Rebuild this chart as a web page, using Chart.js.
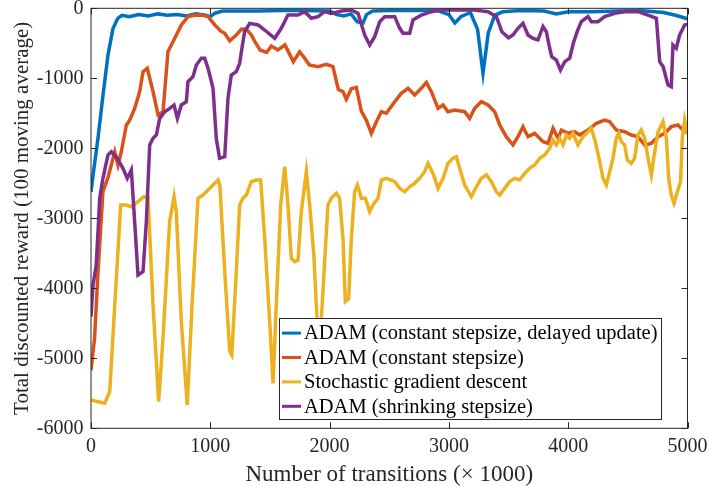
<!DOCTYPE html>
<html lang="en">
<head>
<meta charset="UTF-8">
<title>Total discounted reward</title>
<script src="https://cdn.jsdelivr.net/npm/chart.js"></script>
<style>
  body { margin: 0; background: #fff; }
  #wrap { width: 709px; height: 486px; }
</style>
</head>
<body>
<div id="wrap"><canvas id="rewardCanvas"></canvas></div>
<script>
// [transitions (x1000), reward] pairs, 100-episode moving average
const adamDelayed = [[0,-2620],[20,-2350],[59,-1850],[100,-1250],[142,-670],[184,-290],[226,-140],[260,-100],[320,-120],[400,-90],[480,-110],[560,-80],[640,-100],[720,-90],[800,-110],[880,-80],[960,-100],[1000,-120],[1040,-70],[1100,-40],[1200,-40],[1400,-40],[1600,-30],[1800,-30],[2000,-40],[2060,-90],[2120,-110],[2180,-80],[2230,-190],[2280,-210],[2310,-90],[2360,-40],[2500,-30],[2700,-30],[2900,-30],[3000,-90],[3050,-210],[3100,-120],[3180,-60],[3240,-300],[3286,-930],[3330,-350],[3384,-100],[3450,-50],[3600,-30],[3800,-40],[3900,-80],[4000,-50],[4200,-50],[4400,-40],[4600,-30],[4800,-60],[4900,-100],[5000,-150]];

const adamConstant = [[0,-5170],[30,-4710],[59,-3760],[100,-2620],[142,-2420],[199,-2050],[226,-2240],[254,-2050],[296,-1670],[324,-1600],[366,-1430],[408,-1190],[436,-905],[472,-857],[520,-1190],[562,-1524],[604,-1477],[645,-620],[702,-429],[757,-238],[813,-119],[870,-100],[925,-96],[981,-119],[1037,-238],[1090,-330],[1121,-357],[1163,-465],[1218,-381],[1260,-300],[1300,-295],[1344,-381],[1375,-480],[1417,-596],[1473,-630],[1511,-540],[1567,-596],[1626,-524],[1696,-762],[1749,-620],[1791,-714],[1830,-810],[1903,-833],[1972,-800],[2028,-833],[2073,-1160],[2112,-1190],[2140,-1300],[2182,-1150],[2224,-1130],[2266,-1470],[2308,-1600],[2350,-1786],[2392,-1620],[2434,-1477],[2476,-1500],[2546,-1334],[2601,-1215],[2657,-1143],[2713,-1239],[2769,-1143],[2811,-1058],[2853,-1191],[2909,-1429],[2951,-1381],[2992,-1477],[3048,-1453],[3132,-1477],[3174,-1572],[3216,-1429],[3272,-1334],[3328,-1381],[3384,-1477],[3426,-1667],[3481,-1834],[3537,-1953],[3579,-1834],[3621,-1691],[3663,-1834],[3719,-1786],[3789,-1905],[3830,-1929],[3873,-1715],[3915,-1857],[3943,-1739],[3999,-1786],[4054,-1763],[4096,-1810],[4166,-1739],[4236,-1643],[4306,-1596],[4348,-1620],[4403,-1739],[4473,-1763],[4529,-1810],[4585,-1834],[4641,-1953],[4697,-1929],[4753,-1834],[4809,-1786],[4864,-1691],[4920,-1667],[4977,-1763],[5000,-1760]];

const sgd = [[0,-5596],[59,-5620],[115,-5643],[157,-5477],[199,-4239],[249,-2810],[296,-2810],[338,-2834],[394,-2762],[444,-2691],[478,-2700],[520,-4239],[567,-5620],[604,-4700],[659,-3048],[696,-2691],[715,-2905],[757,-4477],[807,-5667],[847,-4239],[897,-2714],[939,-2667],[981,-2596],[1023,-2524],[1065,-2453],[1080,-2530],[1121,-3762],[1163,-4905],[1180,-4953],[1218,-3762],[1246,-2810],[1274,-2714],[1302,-2667],[1344,-2476],[1386,-2453],[1422,-2453],[1456,-3286],[1498,-4477],[1526,-5358],[1553,-4239],[1590,-2810],[1624,-2262],[1651,-2810],[1679,-3572],[1707,-3620],[1735,-3600],[1763,-2905],[1805,-2334],[1833,-2810],[1868,-3524],[1890,-4300],[1915,-4900],[1986,-2810],[2014,-2714],[2056,-2643],[2084,-2714],[2112,-3286],[2132,-4191],[2160,-4150],[2182,-3286],[2210,-2620],[2233,-2524],[2266,-2714],[2300,-2714],[2336,-2905],[2364,-2810],[2406,-2714],[2434,-2453],[2476,-2429],[2518,-2453],[2546,-2476],[2588,-2572],[2629,-2620],[2671,-2550],[2713,-2500],[2755,-2429],[2797,-2334],[2825,-2215],[2867,-2358],[2909,-2572],[2951,-2429],[2992,-2215],[3034,-2143],[3062,-2120],[3090,-2286],[3132,-2524],[3188,-2691],[3230,-2550],[3272,-2429],[3314,-2381],[3356,-2476],[3398,-2620],[3426,-2667],[3467,-2572],[3509,-2476],[3551,-2429],[3593,-2453],[3635,-2358],[3677,-2286],[3719,-2238],[3761,-2143],[3803,-2096],[3845,-2000],[3873,-1881],[3901,-1953],[3929,-1857],[3957,-1953],[3985,-1810],[4012,-1857],[4040,-1786],[4082,-1953],[4124,-1834],[4166,-1763],[4194,-1715],[4227,-1905],[4264,-2191],[4292,-2429],[4320,-2524],[4348,-2334],[4375,-2143],[4403,-1857],[4423,-1786],[4445,-1905],[4473,-1953],[4496,-2167],[4529,-2215],[4557,-2143],[4585,-1810],[4613,-1739],[4641,-1857],[4669,-2143],[4697,-2381],[4725,-2048],[4753,-1763],[4795,-1620],[4823,-1857],[4842,-2429],[4864,-2667],[4887,-2786],[4915,-2620],[4942,-2476],[4956,-1857],[4976,-1596],[5000,-1800]];

const adamShrinking = [[0,-4405],[17,-3953],[44,-3667],[73,-2714],[100,-2429],[142,-2096],[170,-2048],[212,-2120],[268,-2286],[304,-2429],[338,-2310],[366,-3048],[394,-3810],[436,-3762],[464,-3048],[492,-1953],[520,-1857],[548,-1810],[576,-1572],[618,-1477],[660,-1429],[696,-1381],[724,-1572],[757,-1381],[799,-1334],[813,-1048],[855,-977],[883,-810],[925,-714],[953,-714],[981,-857],[1023,-1143],[1050,-1857],[1078,-2143],[1121,-2120],[1148,-1286],[1176,-953],[1218,-905],[1246,-786],[1265,-571],[1288,-334],[1330,-215],[1400,-238],[1456,-310],[1540,-429],[1595,-286],[1651,-96],[1735,-96],[1791,-48],[1847,-143],[1903,-119],[1958,-48],[2014,-72],[2100,-40],[2182,-24],[2238,-72],[2294,-381],[2336,-524],[2378,-405],[2420,-191],[2462,-119],[2546,-119],[2588,-286],[2615,-357],[2671,-357],[2699,-167],[2769,-96],[2853,-48],[2937,-24],[3216,-24],[3328,-48],[3398,-119],[3444,-334],[3500,-420],[3537,-381],[3579,-286],[3621,-215],[3663,-381],[3705,-429],[3747,-450],[3789,-260],[3817,-334],[3845,-571],[3862,-691],[3901,-739],[3935,-881],[3971,-762],[4013,-714],[4043,-500],[4075,-334],[4110,-191],[4166,-119],[4194,-191],[4250,-191],[4306,-119],[4389,-72],[4473,-48],[4585,-48],[4669,-96],[4739,-143],[4767,-762],[4795,-833],[4837,-1096],[4864,-1119],[4878,-524],[4906,-571],[4934,-381],[4976,-238],[5000,-230]];

const seriesNames = [
  'ADAM (constant stepsize, delayed update)',
  'ADAM (constant stepsize)',
  'Stochastic gradient descent',
  'ADAM (shrinking stepsize)'
];
const seriesColors = ['#0072BD', '#D95319', '#EDB120', '#7E2F8E'];
const xTicks = [0, 1000, 2000, 3000, 4000, 5000];
const yTicks = [0, -1000, -2000, -3000, -4000, -5000, -6000];

const axisColor = '#262626';
const serif = '"Liberation Serif", "Times New Roman", serif';

const toPoints = arr => arr.map(p => ({ x: p[0], y: p[1] }));
const seriesData = [adamDelayed, adamConstant, sgd, adamShrinking];

// matlab style: full box, ticks pointing inwards on all four sides
const boxPlugin = {
  id: 'box',
  afterDatasetsDraw(chart) {
    const { ctx, chartArea: a, scales } = chart;
    const len = 6;
    ctx.save();
    ctx.strokeStyle = axisColor;
    ctx.lineWidth = 1;
    ctx.strokeRect(a.left, a.top, a.right - a.left, a.bottom - a.top);
    ctx.beginPath();
    xTicks.forEach(v => {
      const px = Math.round(scales.x.getPixelForValue(v)) + 0.5;
      ctx.moveTo(px, a.bottom); ctx.lineTo(px, a.bottom - len);
      ctx.moveTo(px, a.top); ctx.lineTo(px, a.top + len);
    });
    yTicks.forEach(v => {
      const py = Math.round(scales.y.getPixelForValue(v)) + 0.5;
      ctx.moveTo(a.left, py); ctx.lineTo(a.left + len, py);
      ctx.moveTo(a.right, py); ctx.lineTo(a.right - len, py);
    });
    ctx.stroke();
    ctx.restore();
  }
};

// legend box in the lower right corner of the axes
const boxLegend = {
  id: 'boxLegend',
  afterDraw(chart) {
    const { ctx, chartArea: a } = chart;
    const w = 382, rowH = 24.4, h = 101;
    const right = a.right - 26.5, bottom = a.bottom - 9.5;
    const left = right - w, top = bottom - h;
    ctx.save();
    ctx.fillStyle = '#fff';
    ctx.fillRect(left, top, w, h);
    ctx.strokeStyle = axisColor;
    ctx.lineWidth = 1;
    ctx.strokeRect(Math.round(left) + 0.5, Math.round(top) + 0.5, w, h);
    ctx.font = '20.5px ' + serif;
    ctx.textBaseline = 'middle';
    ctx.fillStyle = '#000';
    chart.data.datasets.forEach((ds, i) => {
      const y = top + 15.3 + i * rowH;
      ctx.strokeStyle = ds.borderColor;
      ctx.lineWidth = 3;
      ctx.beginPath();
      ctx.moveTo(left + 3, y);
      ctx.lineTo(left + 22, y);
      ctx.stroke();
      ctx.fillText(ds.label, left + 25, y + 1);
    });
    ctx.restore();
  }
};

new Chart(document.getElementById('rewardCanvas'), {
  type: 'line',
  data: {
    datasets: seriesData.map((d, i) => ({
      label: seriesNames[i],
      data: toPoints(d),
      borderColor: seriesColors[i],
      backgroundColor: seriesColors[i],
      borderWidth: 3.5,
      pointRadius: 0,
      tension: 0,
      fill: false,
      order: seriesData.length - i
    }))
  },
  options: {
    responsive: true,
    maintainAspectRatio: false,
    animation: false,
    layout: { autoPadding: false, padding: { top: 8.3, right: 21.5, left: 0, bottom: 0 } },
    plugins: { legend: { display: false }, tooltip: { enabled: false } },
    scales: {
      x: {
        type: 'linear',
        min: 0,
        max: 5000,
        afterBuildTicks: s => { s.ticks = xTicks.map(v => ({ value: v })); },
        afterFit: s => { s.height = 57.7; s.paddingLeft = 0; s.paddingRight = 0; },
        grid: { display: false, drawTicks: false },
        border: { display: false },
        ticks: { color: axisColor, font: { family: serif, size: 20 }, padding: 6, maxRotation: 0, callback: v => String(v) },
        title: {
          display: true,
          text: 'Number of transitions (\u00d7 1000)',
          color: axisColor,
          font: { family: serif, size: 23, lineHeight: 1.0 },
          padding: { top: 0, bottom: 0 }
        }
      },
      y: {
        type: 'linear',
        min: -6000,
        max: 0,
        afterBuildTicks: s => { s.ticks = yTicks.map(v => ({ value: v })); },
        afterFit: s => { s.width = 91; s.paddingTop = 0; s.paddingBottom = 0; },
        grid: { display: false, drawTicks: false },
        border: { display: false },
        ticks: { color: axisColor, font: { family: serif, size: 20 }, padding: 7.5, callback: v => String(v) },
        title: {
          display: true,
          text: 'Total discounted reward (100 moving average)',
          color: axisColor,
          font: { family: serif, size: 21 },
          padding: { top: 10, bottom: 0 }
        }
      }
    }
  },
  plugins: [boxPlugin, boxLegend]
});
</script>
</body>
</html>
